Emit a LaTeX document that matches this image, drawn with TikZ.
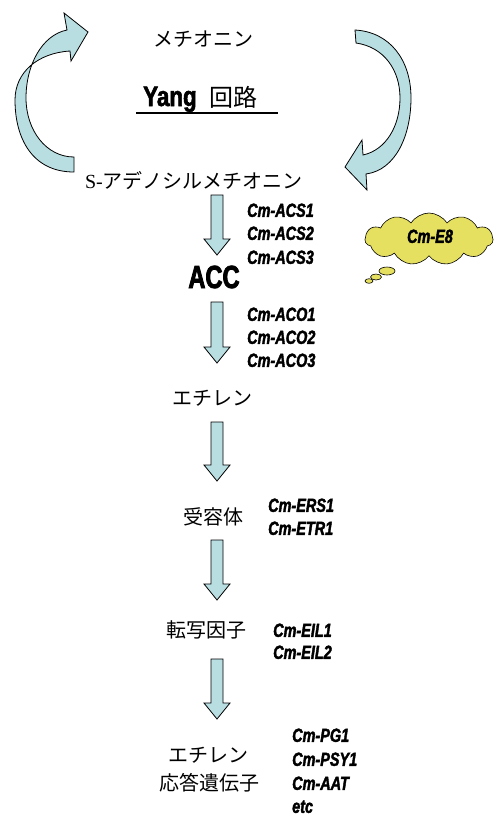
\documentclass[tikz,border=0pt]{standalone}
\usepackage{fontspec}
\setmainfont{Liberation Sans}
\newfontfamily\jp{Noto Sans CJK JP}
\newfontfamily\imp[FakeStretch=0.76, BoldItalicFeatures={FakeBold=2}, BoldFeatures={FakeBold=2}]{Liberation Sans}
\newfontfamily\impup[FakeStretch=0.74, BoldFeatures={FakeBold=2.5}]{Liberation Sans}
\newfontfamily\yangf[FakeStretch=0.8, BoldFeatures={FakeBold=2}]{Liberation Sans}
\newfontfamily\serifS{Liberation Serif}
\usetikzlibrary{shapes.symbols}
\definecolor{arrowfill}{RGB}{184,222,226}
\definecolor{cloudfill}{RGB}{230,224,96}
\tikzset{
  jtext/.style={font=\jp\fontsize{20}{24}\selectfont, inner sep=0pt},
  gene/.style={font=\imp\bfseries\itshape\fontsize{19}{23}\selectfont, inner sep=0pt, anchor=west, text height=13.7pt, text depth=0pt},
  blockarrow/.style={fill=arrowfill, draw=black, line width=0.8pt, line join=miter},
  bubble/.style={fill=cloudfill, draw=black, line width=0.6pt},
}
\newcommand\blockdown[2]{%
  \draw[blockarrow] (211,#1) -- (223,#1) -- (223,{#2-16}) -- (230,{#2-16}) -- (217,#2) -- (204,{#2-16}) -- (211,{#2-16}) -- cycle;}
\begin{document}
\begin{tikzpicture}[x=1pt,y=-1pt]
\useasboundingbox (0,0) rectangle (495,817);

% Yang cycle
\node[jtext] (met) at (203,39) {メチオニン};
\node[inner sep=0pt, anchor=base west] (yang) at (143,106) {\yangf\bfseries\fontsize{28}{32}\selectfont Yang};
\node[jtext, font=\jp\fontsize{24}{28}\selectfont, anchor=base west] (kairo) at (209,106) {回路};
\coordinate (ul1) at (136,113);
\coordinate (ul2) at (278,113);
\draw[line width=2.6pt] (ul1) -- (ul2);
\node[jtext] (sam) at (194,181) {{\serifS S-}アデノシルメチオニン};

% left curved arrow
\draw[blockarrow]
  (74,157) -- (74,172)
  .. controls (32,172) and (15,138) .. (15,100)
  .. controls (15,72) and (38,53) .. (70,51)
  -- (71,61) -- (88,32) -- (64,13) -- (67,30)
  .. controls (42,35) and (26,65) .. (26,98)
  .. controls (26,130) and (46,157) .. (74,157) -- cycle;

% right curved arrow
\draw[blockarrow]
  (355,30) -- (356,43)
  .. controls (384,47) and (400,70) .. (400,98)
  .. controls (400,126) and (386,150) .. (363,155)
  -- (362,140) -- (345,167) -- (367,190) -- (366,174)
  .. controls (396,170) and (411,135) .. (411,98)
  .. controls (411,60) and (390,32) .. (355,30) -- cycle;

% pathway
\blockdown{195}{255}
\node[inner sep=0pt] (acc) at (214,277) {\impup\bfseries\fontsize{32}{36}\selectfont ACC};
\blockdown{302}{363}
\node[jtext] (eth) at (212,398) {エチレン};
\blockdown{422}{481}
\node[jtext] (rec) at (213,517) {受容体};
\blockdown{540}{600}
\node[jtext] (tf) at (206,630) {転写因子};
\blockdown{659}{719}
\node[jtext] (resp1) at (208,755) {エチレン};
\node[jtext] (resp2) at (209,783) {応答遺伝子};

% gene labels
\node[gene] (acs1) at (247,210) {Cm-ACS1};
\node[gene] (acs2) at (247,233) {Cm-ACS2};
\node[gene] (acs3) at (247,257) {Cm-ACS3};
\node[gene] (aco1) at (247,314) {Cm-ACO1};
\node[gene] (aco2) at (247,337) {Cm-ACO2};
\node[gene] (aco3) at (247,360) {Cm-ACO3};
\node[gene] (ers1) at (268,505) {Cm-ERS1};
\node[gene] (etr1) at (268,528) {Cm-ETR1};
\node[gene] (eil1) at (273,630) {Cm-EIL1};
\node[gene] (eil2) at (273,652) {Cm-EIL2};
\node[gene] (pg1) at (292,735) {Cm-PG1};
\node[gene] (psy1) at (292,759) {Cm-PSY1};
\node[gene] (aat) at (292,783) {Cm-AAT};
\node[gene] (etc) at (292,806) {etc};

% thought cloud
\node[cloud, cloud puffs=11, cloud puff arc=115, aspect=2.4, minimum width=128pt, minimum height=52pt, bubble, inner sep=0pt] (cloud) at (429,239) {};
\node[gene, anchor=center] (e8) at (430,236) {Cm-E8};
\draw[bubble] (387,271) ellipse [x radius=8, y radius=4];
\draw[bubble] (376,277) ellipse [x radius=5.5, y radius=3];
\draw[bubble] (369,281) ellipse [x radius=4, y radius=2.3];
\end{tikzpicture}
\end{document}
